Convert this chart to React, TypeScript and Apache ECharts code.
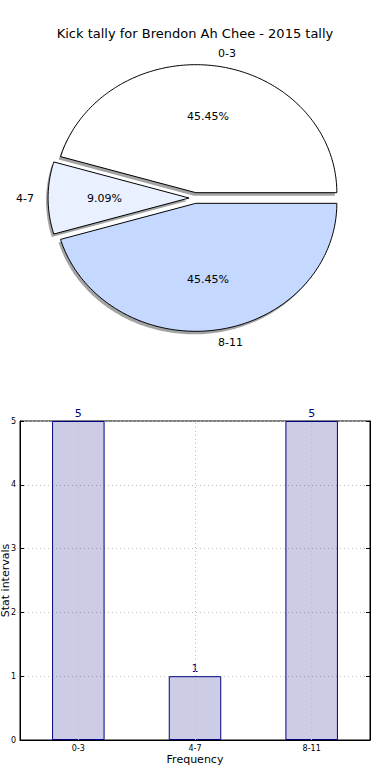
import React, { useEffect, useRef } from "react";
import * as echarts from "echarts";

const titleText = "Kick tally for Brendon Ah Chee - 2015 tally";
const categories = ["0-3", "4-7", "8-11"];
const pieValues = [5, 1, 5];
const pieColors = ["#ffffff", "#e9f0ff", "#c5d8ff"];
const barValues = [5, 1, 5];
const yMin = 0;
const yMax = 5;
const yInterval = 1;
const xAxisName = "Frequency";
const yAxisName = "Stat intervals";

const FONT = "DejaVu Sans";

export default function App() {
  const ref = useRef<HTMLDivElement>(null);
  useEffect(() => {
    const chart = echarts.init(ref.current!, null, { renderer: "svg" });
    const total = pieValues.reduce((a, b) => a + b, 0);
    const cx = 195, cy = 198, rx = 141, ry = 128, explode = 0.042;

    const renderPie = (params: any, api: any) => {
      const i = params.dataIndex;
      const v = api.value(0);
      let before = 0;
      for (let k = 0; k < i; k++) before += pieValues[k];
      const a0 = (before / total) * 2 * Math.PI;
      const a1 = ((before + v) / total) * 2 * Math.PI;
      const mid = (a0 + a1) / 2;
      const cosm = Math.cos(mid);
      const sinm = Math.sin(mid);
      const ox = cx + explode * rx * cosm;
      const oy = cy - explode * ry * sinm;
      const pts: number[][] = [[ox, oy]];
      const n = Math.max(8, Math.ceil((a1 - a0) / 0.02));
      for (let s = 0; s <= n; s++) {
        const t = a0 + ((a1 - a0) * s) / n;
        pts.push([ox + rx * Math.cos(t), oy - ry * Math.sin(t)]);
      }
      const shadowPts = pts.map(([x, y]) => [x - 2, y + 3]);
      const pct = ((v / total) * 100).toFixed(2) + "%";
      return {
        type: "group",
        children: [
          { type: "polygon", z2: 0, shape: { points: shadowPts }, style: { fill: "#a3a3a3" } },
          {
            type: "polygon",
            z2: 1,
            shape: { points: pts },
            style: { fill: pieColors[i], stroke: "#000", lineWidth: 1 },
          },
          {
            type: "text",
            z2: 2,
            x: ox + 0.6 * rx * cosm,
            y: oy - 0.6 * ry * sinm,
            style: { text: pct, align: "center", verticalAlign: "middle", fontSize: 11, fontFamily: FONT, fill: "#000" },
          },
          {
            type: "text",
            z2: 2,
            x: ox + 1.1 * rx * cosm,
            y: oy - 1.1 * ry * sinm,
            style: {
              text: categories[i],
              align: cosm >= 0 ? "left" : "right",
              verticalAlign: "middle",
              fontSize: 11,
              fontFamily: FONT,
              fill: "#000",
            },
          },
        ],
      };
    };

    const option: any = {
      animation: false,
      textStyle: { fontFamily: FONT },
      title: {
        text: titleText,
        left: "center",
        top: 22,
        textStyle: { fontSize: 13, fontWeight: "normal", color: "#000", fontFamily: FONT },
      },
      grid: {
        left: 20,
        right: 20,
        top: 421,
        bottom: 40,
        containLabel: false,
        outerBoundsMode: "none",
        show: true,
        borderColor: "#000",
        borderWidth: 1,
        backgroundColor: "transparent",
      },
      xAxis: [
        {
          type: "category",
          data: categories,
          name: xAxisName,
          nameLocation: "middle",
          nameGap: 14,
          nameMoveOverlap: false,
          nameTextStyle: { fontSize: 11, color: "#000", fontFamily: FONT },
          axisLine: { lineStyle: { color: "#000" } },
          axisTick: { inside: true, alignWithLabel: true, length: 4, lineStyle: { color: "#000" } },
          axisLabel: { fontSize: 8, color: "#000", margin: 4, fontFamily: FONT },
          splitLine: { show: false },
        },
      ],
      yAxis: [
        {
          type: "value",
          min: yMin,
          max: yMax,
          interval: yInterval,
          name: yAxisName,
          nameLocation: "middle",
          nameGap: 9,
          nameMoveOverlap: false,
          nameTextStyle: { fontSize: 11, color: "#000", fontFamily: FONT },
          axisLine: { show: true, lineStyle: { color: "#000" } },
          axisTick: { show: true, inside: true, length: 4, lineStyle: { color: "#000" } },
          axisLabel: { fontSize: 8, color: "#000", margin: 4, fontFamily: FONT },
          splitLine: { show: true, lineStyle: { color: "#bdbdbd", type: [1, 3], width: 1 } },
        },
        {
          type: "value",
          position: "right",
          min: yMin,
          max: yMax,
          interval: yInterval,
          axisLine: { show: true, lineStyle: { color: "#000" } },
          axisTick: { show: true, inside: true, length: 4, lineStyle: { color: "#000" } },
          axisLabel: { show: false },
          splitLine: { show: false },
        },
      ],
      series: [
        {
          type: "custom",
          coordinateSystem: "none",
          renderItem: renderPie,
          data: pieValues.map((v) => [v]),
          silent: true,
        },
        {
          type: "bar",
          xAxisIndex: 0,
          yAxisIndex: 0,
          data: barValues,
          barWidth: "45%",
          itemStyle: { color: "rgba(0,0,128,0.2)", borderColor: "#000080", borderWidth: 1 },
          label: { show: true, position: "top", distance: 2, color: "#000080", fontSize: 11, fontFamily: FONT },
          markLine: {
            silent: true,
            symbol: "none",
            label: { show: false },
            lineStyle: { color: "#bdbdbd", type: [1, 3], width: 1 },
            data: categories.map((c) => ({ xAxis: c })),
          },
        },
      ],
    };
    chart.setOption(option);
    return () => chart.dispose();
  }, []);
  return (
    <div
      ref={ref}
      style={{ position: "fixed", left: 0, top: 0, width: 390, height: 780, background: "#fff" }}
    />
  );
}
